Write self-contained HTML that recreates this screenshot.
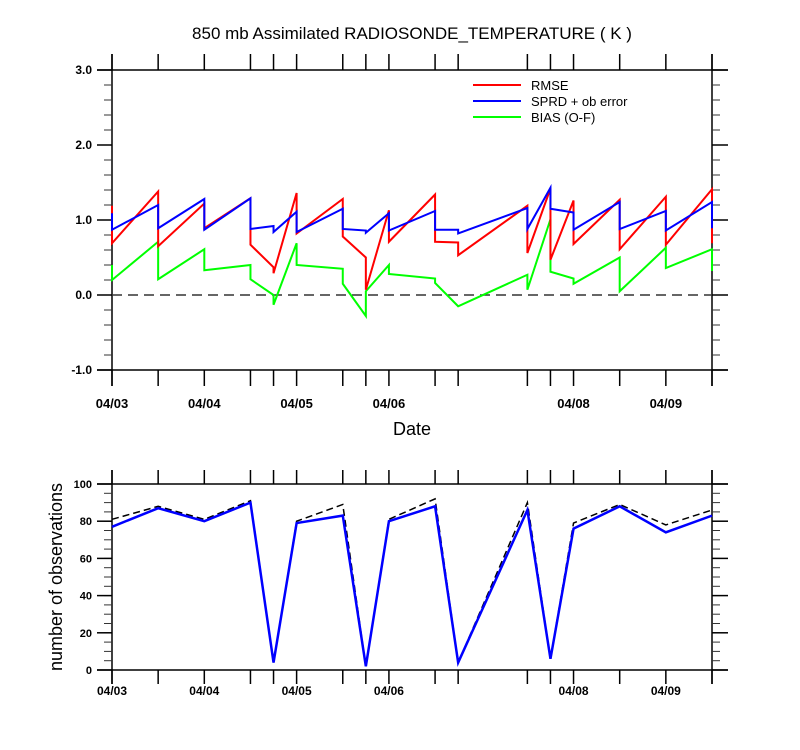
<!DOCTYPE html>
<html><head><meta charset="utf-8"><style>
body{margin:0;background:#fff;}
svg{display:block;font-family:"Liberation Sans",Arial,sans-serif;}
</style></head><body>
<svg id="chart" width="800" height="750" viewBox="0 0 800 750" xmlns="http://www.w3.org/2000/svg">
<text x="412" y="39" font-size="17" text-anchor="middle">850 mb Assimilated RADIOSONDE_TEMPERATURE ( K )</text>
<g id="topPanel"></g>
<g id="botPanel"></g>
<text x="412" y="435" font-size="18" text-anchor="middle">Date</text>
<text transform="translate(62,577) rotate(-90)" font-size="18" text-anchor="middle">number of observations</text>
<g>
<line x1="473" y1="85" x2="521" y2="85" stroke="#f00" stroke-width="2"/>
<text x="531" y="90" font-size="13">RMSE</text>
<line x1="473" y1="101" x2="521" y2="101" stroke="#00f" stroke-width="2"/>
<text x="531" y="106" font-size="13">SPRD + ob error</text>
<line x1="473" y1="117" x2="521" y2="117" stroke="#0f0" stroke-width="2"/>
<text x="531" y="122" font-size="13">BIAS (O-F)</text>
</g>
</svg>
<script>
// times in days since 04/03 00Z
const times=[0,0.5,1,1.5,1.75,2,2.5,2.75,3,3.5,3.75,4.5,4.75,5,5.5,6,6.5];
const dayLabels=["04/03","04/04","04/05","04/06","04/08","04/09"];
const dayLabelPos=[0,1,2,3,5,6];
// [arriving, departing] pairs
const rmseIn=[1.19,1.38,1.22,1.29,0.37,1.36,1.28,0.50,1.13,1.34,0.70,1.19,1.42,1.26,1.27,1.31,1.41];
const rmseOut=[0.69,0.65,0.89,0.67,0.29,0.82,0.78,0.07,0.71,0.71,0.53,0.56,0.47,0.68,0.61,0.67,0.69];
const sprdIn=[1.09,1.20,1.28,1.29,0.92,1.11,1.15,0.86,1.09,1.12,0.87,1.16,1.43,1.10,1.24,1.12,1.24];
const sprdOut=[0.87,0.89,0.87,0.88,0.84,0.84,0.88,0.83,0.86,0.87,0.82,0.88,1.15,0.87,0.88,0.86,0.89];
const biasIn=[0.40,0.71,0.61,0.40,0.0,0.69,0.35,-0.28,0.40,0.22,-0.15,0.27,1.01,0.22,0.50,0.63,0.61];
const biasOut=[0.20,0.21,0.33,0.21,-0.13,0.40,0.15,0.05,0.28,0.16,-0.15,0.07,0.31,0.15,0.05,0.36,0.32];
const nobsUsed=[77,87,80,90,4,79,83,2,80,88,4,86,6,76,88,74,83];
const nobsTotal=[81,88,81,91,4,80,89,2,81,92,4,90,6,79,89,78,86];
const topTicks=[-1,0,1,2,3];
const topTickLabels=["-1.0","0.0","1.0","2.0","3.0"];
const botTicks=[0,20,40,60,80,100];

const NS="http://www.w3.org/2000/svg";
const X0=112,X1=712,T1=6.5;
const xs=t=>X0+(X1-X0)*t/T1;
function mk(parent,tag,attrs){const e=document.createElementNS(NS,tag);for(const k in attrs)e.setAttribute(k,attrs[k]);parent.appendChild(e);return e;}
function line(p,x1,y1,x2,y2,w,c){return mk(p,'line',{x1,y1,x2,y2,stroke:c||'#000','stroke-width':w||1.5});}

function frame(g,yTop,yBot,ys,ticks,labels,minorStep,vmin,vmax,fs,tickLen,labY,xfs){
  line(g,97,yTop,728,yTop,1.5);line(g,97,yBot,728,yBot,1.5);
  times.forEach(t=>{const x=xs(t);line(g,x,yTop-tickLen,x,yTop,1.5);line(g,x,yBot,x,yBot+tickLen,1.5);});
  line(g,X0,yTop-tickLen,X0,yBot+tickLen,1.5);line(g,X1,yTop-tickLen,X1,yBot+tickLen,1.5);
  for(let v=vmin;v<=vmax+1e-9;v+=minorStep){const y=ys(v);line(g,104,y,X0,y,1,'#333');line(g,X1,y,720,y,1,'#333');}
  ticks.forEach((v,i)=>{const y=ys(v);line(g,97,y,X0,y,1.5);line(g,X1,y,728,y,1.5);
    const t=mk(g,'text',{x:92,y:y+4,'font-size':fs,'text-anchor':'end','font-weight':'600'});t.textContent=labels[i];
    
    });
  dayLabelPos.forEach((d,i)=>{const t=mk(g,'text',{x:xs(d),y:labY,'font-size':xfs,'text-anchor':'middle','font-weight':'600'});t.textContent=dayLabels[i];
    
    });
}
function saw(g,ys,ain,aout,color,name){
  let pts=[];times.forEach((t,i)=>{pts.push(xs(t)+','+ys(ain[i]));pts.push(xs(t)+','+ys(aout[i]));});
  const p=mk(g,'polyline',{points:pts.join(' '),fill:'none',stroke:color,'stroke-width':2,'stroke-linejoin':'miter'});
  
  
}
function simple(g,ys,vals,color,w,dash,name){
  const pts=times.map((t,i)=>xs(t)+','+ys(vals[i]));
  const a={points:pts.join(' '),fill:'none',stroke:color,'stroke-width':w};if(dash)a['stroke-dasharray']=dash;
  const p=mk(g,'polyline',a);
  
  
}
const topG=document.getElementById('topPanel');
const ysT=v=>295-75*v;
frame(topG,70,370,ysT,topTicks,topTickLabels,0.2,-1,3,12,16,408,13);
const zl=line(topG,X0,ysT(0),X1,ysT(0),1.5,'#333');zl.setAttribute('stroke-dasharray','10,6');


saw(topG,ysT,biasIn,biasOut,'#0f0','bias-line');
saw(topG,ysT,rmseIn,rmseOut,'#f00','rmse-line');
saw(topG,ysT,sprdIn,sprdOut,'#00f','sprd-line');

const botG=document.getElementById('botPanel');
const ysB=v=>670-1.86*v;
frame(botG,484,670,ysB,botTicks,botTicks.map(String),5,0,100,11,14,695,12);
simple(botG,ysB,nobsTotal,'#000',1.5,'7,4','nobs-total-line');
simple(botG,ysB,nobsUsed,'#00f',2.5,null,'nobs-used-line');
</script>
</body></html>
